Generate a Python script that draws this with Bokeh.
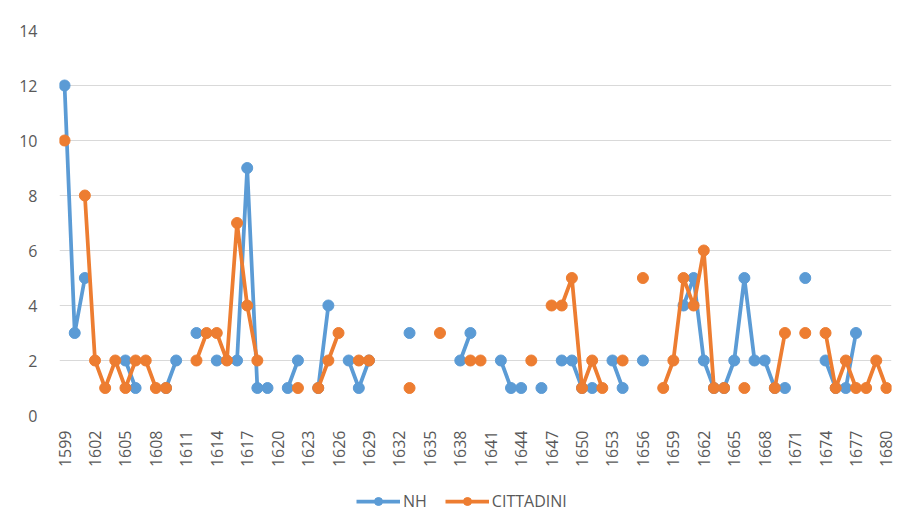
import numpy as np
from math import pi
from bokeh.plotting import figure
from bokeh.layouts import column
from bokeh.models import FixedTicker, Legend, LegendItem, ColumnDataSource
from bokeh.embed import file_html
from bokeh.resources import INLINE

N = None
years = list(range(1599, 1681))
tick_years = list(range(1599, 1681, 3))
y_ticks = [0, 2, 4, 6, 8, 10, 12, 14]

# NH series, one value per year 1599..1680 (None = no data)
nh = [12, 3, 5, N, N, N, 2, 1, N, N,      # 1599-1608
      1, 2, N, 3, N, 2, N, 2, 9, 1,       # 1609-1618
      1, N, 1, 2, N, 1, 4, N, 2, 1,       # 1619-1628
      2, N, N, N, 3, N, N, N, N, 2,       # 1629-1638
      3, N, N, 2, 1, 1, N, 1, N, 2,       # 1639-1648
      2, 1, 1, N, 2, 1, N, 2, N, N,       # 1649-1658
      N, 4, 5, 2, 1, 1, 2, 5, 2, 2,       # 1659-1668
      1, 1, N, 5, N, 2, 1, 1, 3, N,       # 1669-1678
      N, N]                               # 1679-1680

# CITTADINI series
cittadini = [10, N, 8, 2, 1, 2, 1, 2, 2, 1,   # 1599-1608
             1, N, N, 2, 3, 3, 2, 7, 4, 2,    # 1609-1618
             N, N, N, 1, N, 1, 2, 3, N, 2,    # 1619-1628
             2, N, N, N, 1, N, N, 3, N, N,    # 1629-1638
             2, 2, N, N, N, N, 2, N, 4, 4,    # 1639-1648
             5, 1, 2, 1, N, 2, N, 5, N, 1,    # 1649-1658
             2, 5, 4, 6, 1, 1, N, 1, N, N,    # 1659-1668
             1, 3, N, 3, N, 3, 1, 2, 1, 1,    # 1669-1678
             2, 1]                            # 1679-1680

series_names = ["NH", "CITTADINI"]
colors = ["#5B9BD5", "#ED7D31"]

def to_arr(v):
    return np.array([np.nan if x is None else float(x) for x in v])

font = "Open Sans"
txt_col = "#595959"
LW = 3.75
MS = 11
W = 900

p = figure(width=W, height=470,
           x_range=(1598.5, 1680.5), y_range=(0, 14),
           output_backend="svg", toolbar_location=None,
           min_border_left=59, min_border_right=9,
           min_border_top=30, min_border_bottom=51,
           background_fill_color="white", border_fill_color="white")
p.outline_line_color = None

sources = []
for name, vals, col in zip(series_names, [nh, cittadini], colors):
    src = ColumnDataSource(dict(x=years, y=to_arr(vals)))
    sources.append(src)
    p.line("x", "y", source=src, line_color=col, line_width=LW, line_join="round")
    p.scatter("x", "y", source=src, marker="circle", size=MS,
              fill_color=col, line_color=col)

p.xaxis.ticker = FixedTicker(ticks=tick_years)
p.xaxis.major_label_orientation = pi / 2
p.xaxis.major_tick_line_color = None
p.xaxis.minor_tick_line_color = None
p.xaxis.axis_line_color = None
p.xaxis.major_label_standoff = 9
p.yaxis.ticker = FixedTicker(ticks=y_ticks)
p.yaxis.major_tick_line_color = None
p.yaxis.minor_tick_line_color = None
p.yaxis.axis_line_color = None
p.yaxis.major_label_standoff = 16
for ax in (p.xaxis, p.yaxis):
    ax.major_label_text_font = font
    ax.major_label_text_font_size = "16px"
    ax.major_label_text_color = txt_col

p.xgrid.grid_line_color = None
p.ygrid.ticker = FixedTicker(ticks=y_ticks)
p.ygrid.grid_line_color = "#D9D9D9"
p.ygrid.grid_line_width = 1

# legend strip below the chart (same series, drawn outside its visible range)
lg = figure(width=W, height=42, x_range=(0, 1), y_range=(0, 1),
            output_backend="svg", toolbar_location=None,
            min_border=0, background_fill_color="white", border_fill_color="white")
lg.outline_line_color = None
lg.axis.visible = False
lg.grid.visible = False
items = []
for name, src, col in zip(series_names, sources, colors):
    ln = lg.line("x", "y", source=src, line_color=col, line_width=LW)
    sc = lg.scatter("x", "y", source=src, marker="circle", size=MS,
                    fill_color=col, line_color=col)
    items.append(LegendItem(label=name, renderers=[ln, sc]))
legend = Legend(items=items, orientation="horizontal", location=(297, 0),
                label_text_font=font, label_text_font_size="16px",
                label_text_color=txt_col, glyph_width=44, glyph_height=20,
                label_standoff=3, spacing=18, border_line_color=None,
                background_fill_alpha=0, padding=0, margin=0)
lg.add_layout(legend, "center")

layout = column(p, lg, spacing=0)
open("out.html", "w").write(file_html(layout, INLINE))
